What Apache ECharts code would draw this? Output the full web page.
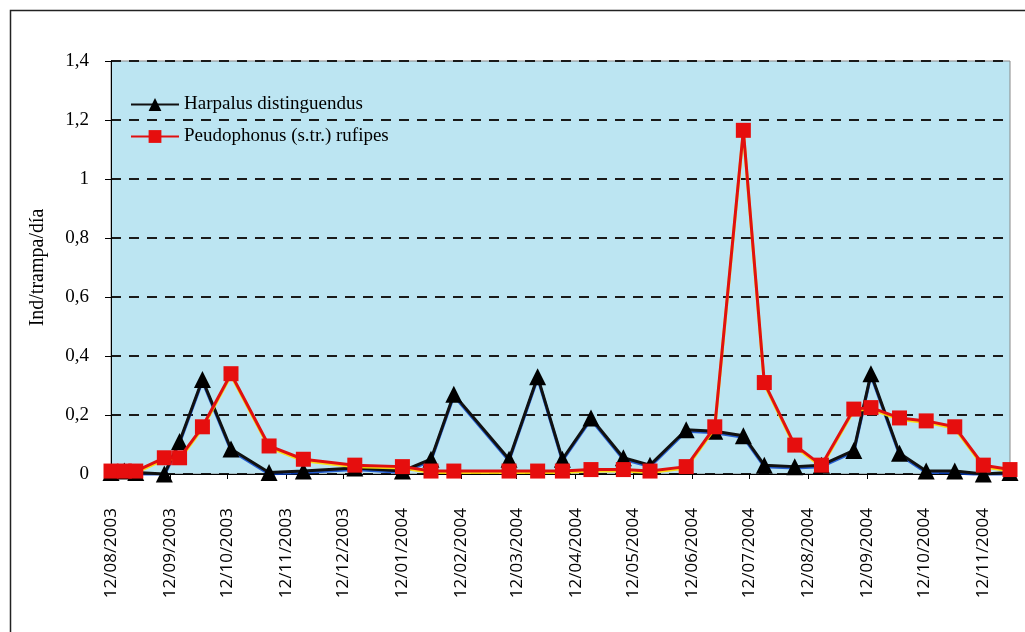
<!DOCTYPE html>
<html>
<head>
<meta charset="utf-8">
<script src="https://cdn.jsdelivr.net/npm/echarts@6/dist/echarts.min.js"></script>
<style>
html,body{margin:0;padding:0;background:#fff;}
#chart{width:1025px;height:632px;}
</style>
</head>
<body>
<div id="chart"></div>
<script>
// Sampling dates
const sampleDates = [
  '2003-08-12','2003-08-19','2003-08-25','2003-09-09','2003-09-17','2003-09-29',
  '2003-10-14','2003-11-03','2003-11-21','2003-12-18','2004-01-12','2004-01-27',
  '2004-02-08','2004-03-08','2004-03-23','2004-04-05','2004-04-20','2004-05-07',
  '2004-05-21','2004-06-09','2004-06-24','2004-07-09','2004-07-20','2004-08-05',
  '2004-08-19','2004-09-05','2004-09-14','2004-09-29','2004-10-13','2004-10-28',
  '2004-11-12','2004-11-26'
];
// Harpalus distinguendus
const harpalus = [
  0.005,0.01,0.005,0.0,0.11,0.32,
  0.085,0.005,0.01,0.02,0.01,0.05,
  0.27,0.05,0.33,0.05,0.19,0.055,
  0.03,0.15,0.145,0.13,0.03,0.025,
  0.03,0.08,0.34,0.07,0.01,0.01,
  0.0,0.005
];
// Peudophonus (s.tr.) rufipes
const peudophonus = [
  0.01,0.01,0.01,0.055,0.055,0.16,
  0.34,0.095,0.05,0.03,0.025,0.01,
  0.01,0.01,0.01,0.01,0.015,0.015,
  0.01,0.025,0.16,1.165,0.31,0.098,
  0.03,0.22,0.225,0.19,0.18,0.16,
  0.03,0.015
];
// X tick labels (12th of each month)
const tickDates = [
  '2003-08-12','2003-09-12','2003-10-12','2003-11-12','2003-12-12','2004-01-12',
  '2004-02-12','2004-03-12','2004-04-12','2004-05-12','2004-06-12','2004-07-12',
  '2004-08-12','2004-09-12','2004-10-12','2004-11-12'
];
const seriesNames = ['Harpalus distinguendus','Peudophonus (s.tr.) rufipes'];
const yAxisTitle = 'Ind/trampa/día';

const DAY = 86400000;
const origin = Date.UTC(2003,7,12);
// days since first sampling date
function toDay(s){const p=s.split('-');return Math.round((Date.UTC(+p[0],+p[1]-1,+p[2])-origin)/DAY);}
function pad(n){return (n<10?'0':'')+n;}
function fmtDay(v){const d=new Date(origin+v*DAY);return pad(d.getUTCDate())+'/'+pad(d.getUTCMonth()+1)+'/'+d.getUTCFullYear();}

const ticksDays = tickDates.map(toDay);
const serif = 'Liberation Serif, Times New Roman, serif';

const chart = echarts.init(document.getElementById('chart'));
chart.setOption({
  backgroundColor:'#ffffff',
  animation:false,
  graphic:[
    {type:'polyline',shape:{points:[[10.5,632],[10.5,10.5],[1025,10.5]]},style:{stroke:'#222',lineWidth:1.5,fill:null}}
  ],
  grid:{left:111,top:61,right:15,bottom:158,show:true,backgroundColor:'#bce5f2',borderColor:'#888',borderWidth:1},
  legend:{
    orient:'vertical',left:125,top:90,itemWidth:48,itemHeight:16,itemGap:13,
    textStyle:{fontFamily:serif,fontSize:19,color:'#000'},
    data:seriesNames
  },
  xAxis:{
    type:'value',
    min:toDay(sampleDates[0]),max:toDay(sampleDates[sampleDates.length-1]),
    axisLine:{show:true,onZero:false,lineStyle:{color:'#000',width:1}},
    axisTick:{show:true,length:5,customValues:ticksDays,lineStyle:{color:'#000'}},
    axisLabel:{customValues:ticksDays,rotate:90,margin:34,formatter:fmtDay,
      fontFamily:'Open Sans, sans-serif',fontSize:17,color:'#000'},
    splitLine:{show:false}
  },
  yAxis:{
    type:'value',min:0,max:1.4,interval:0.2,
    name:yAxisTitle,nameLocation:'middle',nameRotate:90,nameGap:63,
    nameTextStyle:{fontFamily:serif,fontSize:20,color:'#000'},
    axisLine:{show:true,onZero:false,lineStyle:{color:'#000',width:1}},
    axisTick:{show:true,length:6,lineStyle:{color:'#000'}},
    axisLabel:{margin:22,fontFamily:serif,fontSize:19,color:'#000',
      formatter:function(v){return String(Math.round(v*10)/10).replace('.',',');}},
    splitLine:{show:true,lineStyle:{color:'#1a1a1a',width:2,type:[10,8]}}
  },
  series:[
    {
      name:seriesNames[0],type:'line',
      data:sampleDates.map((d,i)=>[toDay(d),harpalus[i]]),
      symbol:'triangle',symbolSize:17,
      lineStyle:{color:'#111',width:3,shadowColor:'rgba(0,60,200,0.8)',shadowOffsetY:1.5},
      itemStyle:{color:'#000'},
      z:2
    },
    {
      name:seriesNames[1],type:'line',
      data:sampleDates.map((d,i)=>[toDay(d),peudophonus[i]]),
      symbol:'rect',symbolSize:15,
      lineStyle:{color:'#e01010',width:3,shadowColor:'rgba(255,220,0,0.9)',shadowOffsetY:1.5},
      itemStyle:{color:'#e60e0e'},
      z:3
    }
  ]
});
</script>
</body>
</html>
